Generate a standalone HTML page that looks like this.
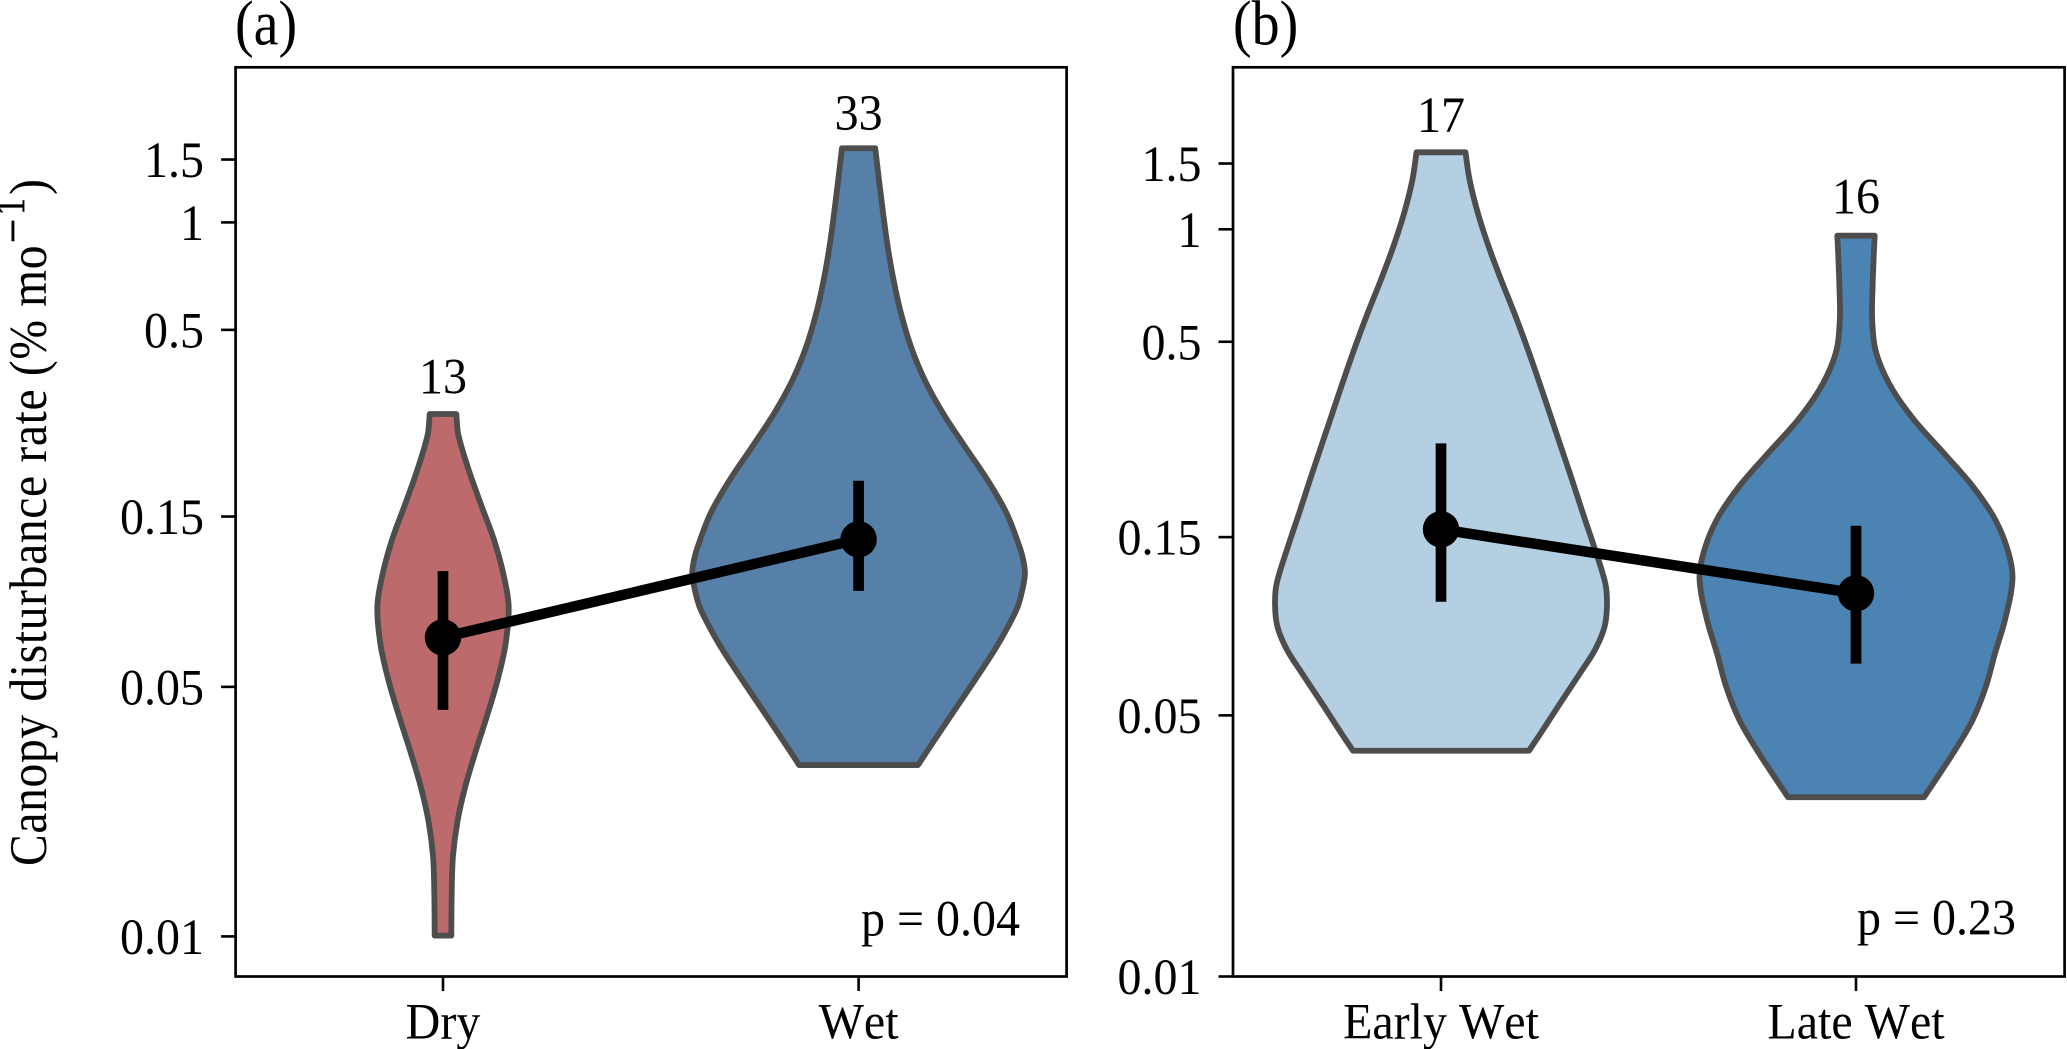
<!DOCTYPE html>
<html lang="en">
<head>
<meta charset="utf-8">
<title>Canopy disturbance rate violin plots</title>
<style>
html,body{margin:0;padding:0;background:#fff;}
body{width:2067px;height:1049px;overflow:hidden;}
svg{display:block;}
text{font-family:"Liberation Serif","Times New Roman",serif;fill:#000;font-kerning:none;}
</style>
</head>
<body>
<svg id="chart" xmlns="http://www.w3.org/2000/svg" width="2067" height="1049" viewBox="0 0 2067 1049">
  <rect x="0" y="0" width="2067" height="1049" fill="#ffffff"/>
  <g id="panel-a"></g>
  <g id="panel-b"></g>
  <text transform="translate(235,44.7) scale(1,1.13)" font-size="56">(a)</text>
  <text transform="translate(1233,44.7) scale(1,1.13)" font-size="56">(b)</text>
  <text transform="translate(46,866) rotate(-90) scale(1,1.12)" font-size="47.5" textLength="687" lengthAdjust="spacing">Canopy disturbance rate (% mo<tspan dy="-19" font-size="33" font-family="'DejaVu Serif','Liberation Serif',serif">−1</tspan><tspan dy="19">)</tspan></text>
  <text transform="translate(1020,935.7) scale(1,1.05)" font-size="48" text-anchor="end">p = 0.04</text>
  <text transform="translate(2016,934.7) scale(1,1.05)" font-size="48" text-anchor="end">p = 0.23</text>
</svg>
<script>
// ---- Panel (a) data ----
const categoriesA = ['Dry', 'Wet'];
const countsA = [13, 33];
const yTickValuesA = [0.01, 0.05, 0.15, 0.5, 1, 1.5];
const yTickLabelsA = ['0.01', '0.05', '0.15', '0.5', '1', '1.5'];
const meansA = [0.0688, 0.1295];
const ciLowA = [0.0431, 0.0929];
const ciHighA = [0.1055, 0.1890];

const dryRates = [0.2906, 0.2537, 0.2023, 0.1614, 0.1287, 0.1026, 0.0838, 0.0653, 0.0521, 0.0415, 0.0331, 0.0264, 0.02106, 0.0168, 0.01339, 0.01005];
const dryDensity = [0.032, 0.037, 0.062, 0.092, 0.123, 0.146, 0.158, 0.150, 0.131, 0.106, 0.079, 0.054, 0.035, 0.024, 0.021, 0.020];
const wetRates = [1.613, 1.315, 1.060, 0.855, 0.690, 0.556, 0.4485, 0.3618, 0.2920, 0.2353, 0.1899, 0.1532, 0.1235, 0.1133, 0.1029, 0.0876, 0.0804, 0.0648, 0.0523, 0.0422, 0.0340, 0.0302];
const wetDensity = [0.040, 0.049, 0.059, 0.070, 0.084, 0.102, 0.126, 0.159, 0.203, 0.256, 0.310, 0.356, 0.387, 0.396, 0.400, 0.388, 0.376, 0.332, 0.280, 0.226, 0.172, 0.143];

// ---- Panel (b) data ----
const categoriesB = ['Early Wet', 'Late Wet'];
const countsB = [17, 16];
const yTickValuesB = [0.01, 0.05, 0.15, 0.5, 1, 1.5];
const yTickLabelsB = ['0.01', '0.05', '0.15', '0.5', '1', '1.5'];
const meansB = [0.1574, 0.1061];
const ciLowB = [0.1007, 0.0688];
const ciHighB = [0.2674, 0.1609];

const earlyRates = [1.607, 1.355, 1.104, 0.898, 0.7316, 0.5958, 0.4850, 0.3949, 0.3218, 0.2619, 0.2132, 0.1737, 0.1414, 0.1128, 0.0987, 0.0862, 0.0748, 0.0648, 0.0528, 0.0449, 0.0402];
const earlyDensity = [0.059, 0.069, 0.089, 0.115, 0.145, 0.177, 0.207, 0.235, 0.262, 0.289, 0.316, 0.342, 0.369, 0.396, 0.400, 0.394, 0.371, 0.335, 0.282, 0.241, 0.212];
const lateRates = [0.9613, 0.8625, 0.7021, 0.5717, 0.4657, 0.3791, 0.3088, 0.2514, 0.2047, 0.1667, 0.1357, 0.1151, 0.0900, 0.0733, 0.0597, 0.0486, 0.0396, 0.0302];
const lateDensity = [0.045, 0.043, 0.040, 0.039, 0.049, 0.084, 0.140, 0.212, 0.282, 0.336, 0.368, 0.377, 0.359, 0.335, 0.313, 0.281, 0.234, 0.164];

const SVGNS = 'http://www.w3.org/2000/svg';

function make(parent, tag, attrs) {
  const el = document.createElementNS(SVGNS, tag);
  for (const k in attrs) el.setAttribute(k, attrs[k]);
  parent.appendChild(el);
  return el;
}

// Hermite spline of x as a function of y (handles uneven spacing), continuing an open path
function spline(pts) {
  const n = pts.length;
  const slope = pts.map((p, i) => {
    const a = pts[Math.max(i - 1, 0)], b = pts[Math.min(i + 1, n - 1)];
    return (b[0] - a[0]) / (b[1] - a[1]);
  });
  let d = '';
  for (let i = 0; i < n - 1; i++) {
    const p1 = pts[i], p2 = pts[i + 1];
    const h = (p2[1] - p1[1]) / 3;
    d += 'C' + (p1[0] + slope[i] * h).toFixed(2) + ' ' + (p1[1] + h).toFixed(2) + ' ' +
      (p2[0] - slope[i + 1] * h).toFixed(2) + ' ' + (p2[1] - h).toFixed(2) + ' ' +
      p2[0].toFixed(2) + ' ' + p2[1].toFixed(2);
  }
  return d;
}

function violinPath(rates, density, i, xScale, xUnit, yScale) {
  const cx = xScale(i);
  const left = rates.map((r, k) => [cx - density[k] * xUnit, yScale(r)]);
  const right = rates.map((r, k) => [cx + density[k] * xUnit, yScale(r)]).reverse();
  return 'M' + left[0][0].toFixed(2) + ' ' + left[0][1].toFixed(2) + spline(left) +
    'L' + right[0][0].toFixed(2) + ' ' + right[0][1].toFixed(2) + spline(right) + 'Z';
}

function drawPanel(g, cfg) {
  const { box, xScale, xUnit, yScale, categories, counts, tickValues, tickLabels, means, ciLow, ciHigh, violins, labelEnd } = cfg;
  // violins
  violins.forEach((v, i) => {
    const path = make(g, 'path', { d: violinPath(v.rates, v.density, i, xScale, xUnit, yScale), fill: v.color, stroke: '#4d4d4d', 'stroke-width': 5.8, 'stroke-linejoin': 'round' });
    
    
    const count = make(g, 'text', { transform: 'translate(' + xScale(i) + ',' + (yScale(v.rates[0]) - v.labelGap) + ') scale(1,1.05)', 'font-size': 48, 'text-anchor': 'middle' });
    count.textContent = counts[i];
    
    
  });
  // connector
  const link = make(g, 'line', { x1: xScale(0), y1: yScale(means[0]), x2: xScale(1), y2: yScale(means[1]), stroke: '#000', 'stroke-width': 10.5 });
  
  
  // error bars and mean points
  means.forEach((m, i) => {
    const bar = make(g, 'line', { x1: xScale(i), x2: xScale(i), y1: yScale(ciHigh[i]), y2: yScale(ciLow[i]), stroke: '#000', 'stroke-width': 10.7 });
    
    
    const dot = make(g, 'circle', { cx: xScale(i), cy: yScale(m), r: 18.2, fill: '#000' });
    
    
  });
  // frame
  const frame = make(g, 'rect', { x: box.l, y: box.t, width: box.r - box.l, height: box.b - box.t, fill: 'none', stroke: '#000', 'stroke-width': 2.7 });
  
  
  // y ticks
  tickValues.forEach((v, i) => {
    const y = yScale(v);
    const tick = make(g, 'line', { x1: box.l - 14.5, x2: box.l, y1: y, y2: y, stroke: '#000', 'stroke-width': 2.6 });
    
    
    const lab = make(g, 'text', { transform: 'translate(' + labelEnd + ',' + (y + 17.5) + ') scale(1,1.05)', 'font-size': 48, 'text-anchor': 'end' });
    lab.textContent = tickLabels[i];
    
    
  });
  // x ticks
  categories.forEach((c, i) => {
    const x = xScale(i);
    const tick = make(g, 'line', { x1: x, x2: x, y1: box.b, y2: box.b + 14.5, stroke: '#000', 'stroke-width': 2.6 });
    
    
    const lab = make(g, 'text', { transform: 'translate(' + x + ',1038.4) scale(1,1.05)', 'font-size': 48, 'text-anchor': 'middle' });
    lab.textContent = c;
    
    
  });
}

drawPanel(document.getElementById('panel-a'), {
  box: { l: 235.6, r: 1066.6, t: 67.3, b: 976.5 },
  xUnit: 415.7,
  xScale: i => 443 + 415.6 * i,
  yScale: v => 222.4 - 357 * Math.log10(v),
  categories: categoriesA, counts: countsA,
  tickValues: yTickValuesA, tickLabels: yTickLabelsA,
  means: meansA, ciLow: ciLowA, ciHigh: ciHighA,
  labelEnd: 204,
  violins: [
    { rates: dryRates, density: dryDensity, color: '#bd6a6c', labelGap: 20.6 },
    { rates: wetRates, density: wetDensity, color: '#5680a8', labelGap: 18.3 }
  ]
});

drawPanel(document.getElementById('panel-b'), {
  box: { l: 1233, r: 2064.6, t: 67.3, b: 976.5 },
  xUnit: 414.9,
  xScale: i => 1441 + 415 * i,
  yScale: v => 229.3 - 373.6 * Math.log10(v),
  categories: categoriesB, counts: countsB,
  tickValues: yTickValuesB, tickLabels: yTickLabelsB,
  means: meansB, ciLow: ciLowB, ciHigh: ciHighB,
  labelEnd: 1201.5,
  violins: [
    { rates: earlyRates, density: earlyDensity, color: '#b4cfe1', labelGap: 20.3 },
    { rates: lateRates, density: lateDensity, color: '#4b83b2', labelGap: 22.2 }
  ]
});
</script>
</body>
</html>
